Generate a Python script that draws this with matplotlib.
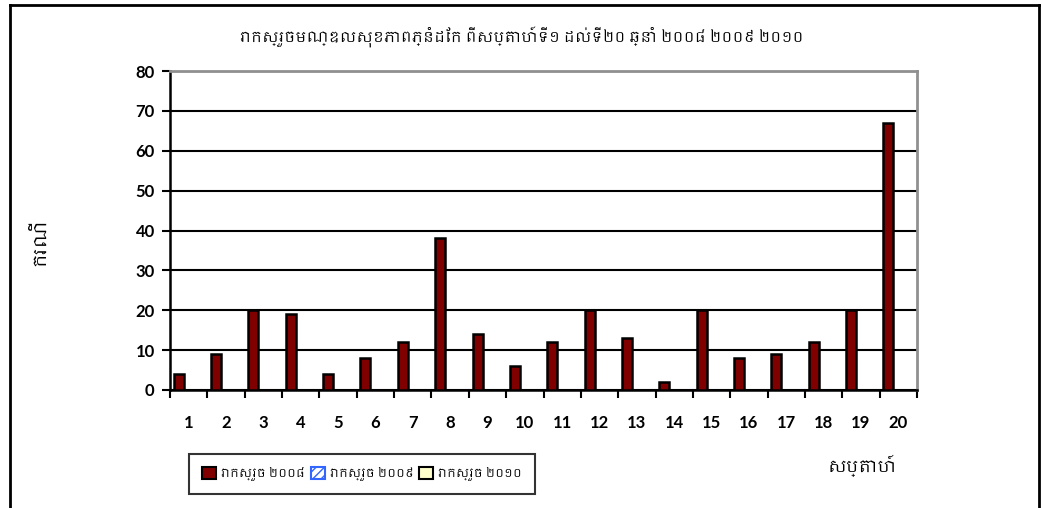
import matplotlib
matplotlib.use("Agg")
import matplotlib.pyplot as plt
from matplotlib import font_manager
from matplotlib.patches import Patch
from matplotlib.lines import Line2D
import numpy as np

weeks = [str(i) for i in range(1, 21)]
cases_2008 = [4, 9, 20, 19, 4, 8, 12, 38, 14, 6, 12, 20, 13, 2, 20, 8, 9, 12, 20, 67]
cases_2009 = [0] * 20
cases_2010 = [0] * 20
series_labels = ["រាកស្រួច ២០០៨", "រាកស្រួច ២០០៩", "រាកស្រួច ២០១០"]
title = "រាកស្រួចមណ្ឌលសុខភាពភ្នំដែក ពីសប្តាហ៍ទី១ ដល់ទី២០ ឆ្នាំ ២០០៨ ២០០៩ ២០១០"
ylabel = "ករណី"
xlabel = "សប្តាហ៍"
yticks = [0, 10, 20, 30, 40, 50, 60, 70, 80]

# find a font with Khmer glyphs if any
khmer_font = None
for f in font_manager.fontManager.ttflist:
    if "khmer" in f.name.lower():
        khmer_font = f.name
        break
kfam = [khmer_font, "DejaVu Sans"] if khmer_font else ["DejaVu Sans"]

W, H = 1042, 508
fig = plt.figure(figsize=(W / 100, H / 100), dpi=100)
# outer chart border
fig.add_artist(Line2D([10 / W, 10 / W], [0, 1 - 5 / H], color="black", lw=2, transform=fig.transFigure))
fig.add_artist(Line2D([10 / W, 1039 / W], [1 - 5 / H, 1 - 5 / H], color="black", lw=2, transform=fig.transFigure))
fig.add_artist(Line2D([1039 / W, 1039 / W], [0, 1 - 5 / H], color="black", lw=2, transform=fig.transFigure))

ax = fig.add_axes([170 / W, 1 - 390 / H, (917 - 170) / W, (390 - 71) / H])

x = np.arange(len(weeks))
bw = 0.267
start = -0.5 + 0.1
ax.bar(x + start + bw * 0.5, cases_2008, width=bw, color="#800000", edgecolor="black", linewidth=1.8, zorder=3)
ax.bar(x + start + bw * 1.5, cases_2009, width=bw, color="white", edgecolor="black", hatch="////", linewidth=0, zorder=3)
ax.bar(x + start + bw * 2.5, cases_2010, width=bw, color="#FFFFCC", edgecolor="black", linewidth=0, zorder=3)

ax.set_xlim(-0.5, len(weeks) - 0.5)
ax.set_ylim(0, 80)
ax.set_yticks(yticks)
ax.yaxis.grid(True, color="black", lw=1.5)
ax.set_axisbelow(True)

ax.set_xticks(np.arange(len(weeks) + 1) - 0.5)
ax.set_xticklabels([])
ax.set_xticks(x, minor=True)
ax.set_xticklabels(weeks, minor=True)
ax.tick_params(axis="x", which="minor", length=0, pad=18)
ax.tick_params(axis="x", which="major", length=6, width=1.5, direction="out")
ax.tick_params(axis="y", length=6, width=1.5, direction="out", pad=5)
for lab in ax.get_xticklabels(minor=True) + ax.get_yticklabels():
    lab.set_fontfamily("Lato")
    lab.set_fontweight("bold")
    lab.set_fontsize(12)

ax.spines["left"].set_linewidth(1.8)
ax.spines["bottom"].set_linewidth(1.8)
ax.spines["top"].set_color("#909090")
ax.spines["right"].set_color("#909090")
ax.spines["top"].set_linewidth(2)
ax.spines["right"].set_linewidth(2)

fig.text(522 / W, 1 - 37 / H, title, ha="center", va="center", fontsize=10.5, family=kfam)
fig.text(40 / W, 1 - 242 / H, ylabel, ha="center", va="center", rotation=90, fontsize=13, family=kfam)
fig.text(862 / W, 1 - 466 / H, xlabel, ha="center", va="center", fontsize=12, family=kfam)

handles = [
    Patch(facecolor="#800000", edgecolor="black", linewidth=1.5),
    Patch(facecolor="white", edgecolor="#3366FF", hatch="////", linewidth=1.5),
    Patch(facecolor="#FFFFCC", edgecolor="black", linewidth=1.5),
]
leg = fig.legend(handles, series_labels, loc="center", bbox_to_anchor=(362 / W, 1 - 474 / H), ncol=3,
                 frameon=True, fancybox=False, handlelength=1.2, handleheight=1.2, handletextpad=0.4,
                 columnspacing=0.5, borderpad=1.1, prop={"family": kfam, "size": 8.5})
leg.get_frame().set_edgecolor("black")
leg.get_frame().set_linewidth(1.5)

fig.savefig("out.png", dpi=100)
